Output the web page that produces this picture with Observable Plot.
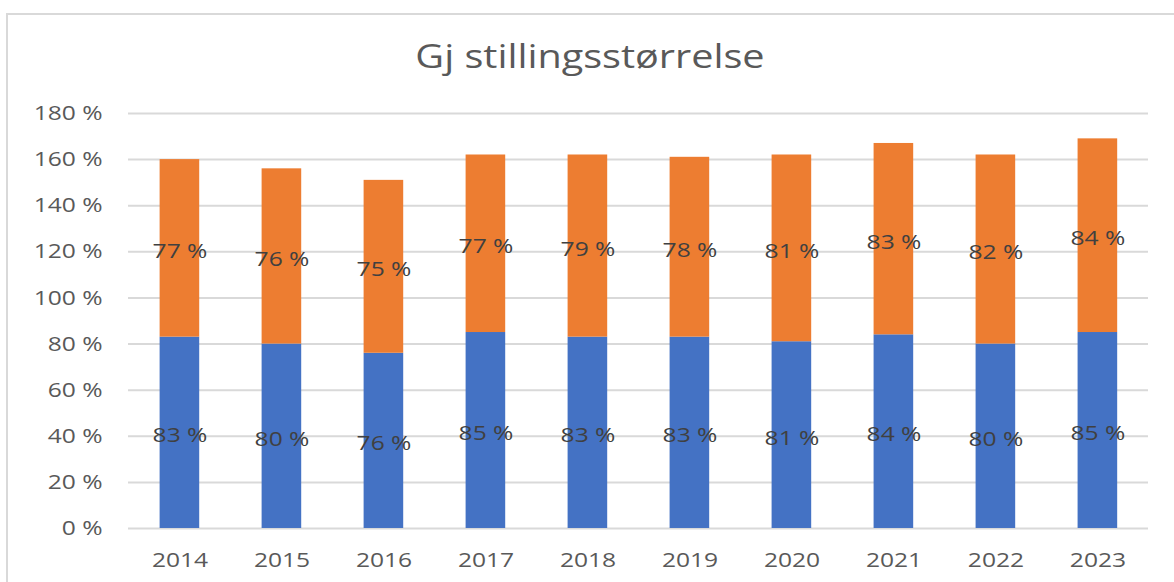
<!DOCTYPE html>
<html>
<head>
<meta charset="utf-8">
<script src="https://cdn.jsdelivr.net/npm/d3@7"></script>
<script src="https://cdn.jsdelivr.net/npm/@observablehq/plot@0.6"></script>
<style>
  html, body { margin: 0; padding: 0; background: #fff; }
  #wrap { position: relative; width: 1174px; height: 582px; overflow: hidden; background: #fff; }
  #frame { position: absolute; left: 6px; top: 13px; width: 3000px; height: 3000px;
           border-left: 2px solid #d9d9d9; border-top: 2px solid #d9d9d9; }
  #stretch { position: absolute; left: 0; top: 0; width: 978.33px; height: 582px;
             transform: scaleX(1.2); transform-origin: 0 0; }
  #title { position: absolute; left: 0; top: 39px; width: 983.3px; text-align: center;
           font-family: "Open Sans", sans-serif; font-size: 33px; line-height: 33px; color: #595959; }
  #chart { position: absolute; left: 0; top: 90px; }
</style>
</head>
<body>
<div id="wrap">
  <div id="frame"></div>
  <div id="stretch">
    <div id="title">Gj stillingsstørrelse</div>
    <div id="chart"></div>
  </div>
</div>
<script>
const years = ["2014","2015","2016","2017","2018","2019","2020","2021","2022","2023"];
const lower = [83, 80, 76, 85, 83, 83, 81, 84, 80, 85];   // blue
const upper = [77, 76, 75, 77, 79, 78, 81, 83, 82, 84];   // orange
const yTicks = [0, 20, 40, 60, 80, 100, 120, 140, 160, 180];
const seriesNames = ["Nedre", "Øvre"];
const seriesColors = ["#4472C4", "#ED7D31"];

const rows = years.flatMap((yr, i) => [
  {year: yr, series: seriesNames[0], value: lower[i]},
  {year: yr, series: seriesNames[1], value: upper[i]}
]);

const W = 1174 / 1.2;
const chart = Plot.plot({
  width: W,
  height: 492,
  marginTop: 23,
  marginBottom: 54,
  marginLeft: 106.67,
  marginRight: W - 956.67,
  style: {fontFamily: "'Open Sans', sans-serif", fontSize: "20.5px", color: "#595959", background: "transparent"},
  x: {domain: years, paddingInner: 0.608, paddingOuter: 0.304, label: null},
  y: {domain: [0, 180], label: null},
  color: {domain: seriesNames, range: seriesColors},
  marks: [
    Plot.ruleY(yTicks, {stroke: "#d9d9d9", strokeWidth: 2}),
    Plot.barY(rows, Plot.stackY({x: "year", y: "value", fill: "series"})),
    Plot.text(rows, Plot.stackY({x: "year", y: "value", text: d => d.value + " %",
      fill: "#404040", fontSize: 20.5, dy: 3})),
    Plot.axisY({ticks: yTicks, tickSize: 0, tickPadding: 21.67, tickFormat: d => d + " %", label: null}),
    Plot.axisX({tickSize: 0, tickPadding: 24, label: null})
  ]
});
document.getElementById("chart").appendChild(chart);
</script>
</body>
</html>
